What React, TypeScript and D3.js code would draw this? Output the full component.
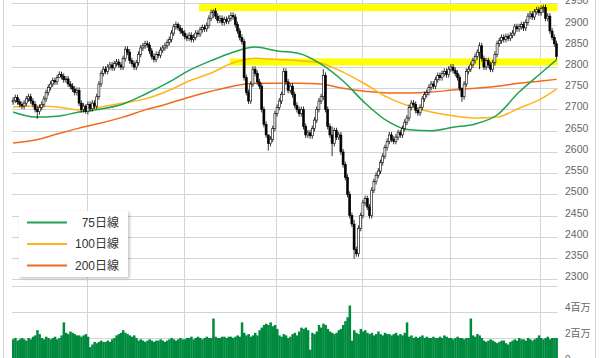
import React from 'react';
import * as d3 from 'd3';

// daily closes (248 sessions)
const closes = [
  2722, 2728, 2718, 2712, 2708, 2715, 2725, 2730, 2720, 2712,
  2700, 2695, 2705, 2712, 2725, 2740, 2752, 2760, 2768, 2765,
  2775, 2782, 2778, 2770, 2772, 2760, 2755, 2748, 2740, 2745,
  2715, 2700, 2708, 2695, 2712, 2702, 2715, 2708, 2730, 2760,
  2785, 2795, 2790, 2800, 2805, 2798, 2808, 2812, 2805, 2800,
  2820, 2842, 2835, 2815, 2808, 2800, 2810, 2830, 2845, 2850,
  2855, 2852, 2838, 2825, 2818, 2830, 2828, 2840, 2845, 2850,
  2858, 2865, 2880, 2895, 2900, 2892, 2885, 2880, 2872, 2868,
  2875, 2865, 2870, 2880, 2878, 2888, 2893, 2890, 2898, 2915,
  2928, 2932, 2920, 2910, 2915, 2905, 2912, 2908, 2915, 2922,
  2918, 2900, 2885, 2870, 2860, 2775, 2740, 2720, 2760, 2795,
  2785, 2765, 2755, 2700, 2665, 2640, 2620, 2630, 2655, 2690,
  2705, 2720, 2735, 2790, 2765, 2745, 2755, 2735, 2710, 2700,
  2690, 2700, 2660, 2640, 2645, 2638, 2655, 2675, 2700, 2720,
  2730, 2780, 2700, 2660, 2640, 2620, 2650, 2635, 2640, 2600,
  2570, 2540, 2500, 2450, 2430, 2370, 2360, 2420, 2450, 2480,
  2490, 2470, 2450, 2510, 2530, 2545, 2555, 2575, 2590, 2610,
  2625, 2640, 2630, 2625, 2635, 2645, 2640, 2655, 2670, 2680,
  2705, 2715, 2712, 2698, 2692, 2705, 2725, 2735, 2740, 2752,
  2760, 2755, 2770, 2780, 2775, 2785, 2790, 2782, 2795, 2800,
  2792, 2785, 2775, 2750, 2730, 2760, 2790, 2795, 2805, 2815,
  2825, 2835, 2850, 2820, 2800, 2815, 2805, 2795, 2810, 2830,
  2855, 2862, 2870, 2865, 2872, 2868, 2875, 2880, 2895, 2890,
  2895, 2900, 2892, 2905, 2920, 2925, 2918, 2930, 2935, 2928,
  2938, 2940, 2915, 2920, 2885, 2870, 2855, 2825,
];
const firstOpen = 2718;
// notable long shadows: [index, high, low]
const extremes: [number, number, number][] = [
  [11, 2708, 2678], [21, 2790, 2774], [33, 2712, 2690], [75, 2905, 2886],
  [91, 2936, 2915], [116, 2640, 2603], [123, 2798, 2735], [141, 2795, 2722],
  [145, 2660, 2590], [155, 2440, 2348], [204, 2752, 2718], [212, 2858, 2795],
  [241, 2947, 2928],
];

// volume, millions of shares
const volumes = [
  1.9, 2.0, 1.8, 1.9, 2.0, 1.9, 1.8, 2.0, 1.9, 2.1,
  2.2, 2.6, 2.3,
  2.0, 1.9, 2.1, 2.0, 1.9, 2.0, 2.1, 1.9, 2.0, 2.2,
  3.2,
  2.4, 2.3, 2.5, 2.4, 2.3, 2.2,
  2.2, 2.1, 2.2, 2.3, 2.1,
  1.3, 1.5,
  1.7, 1.6, 1.7, 1.8, 1.7, 1.7, 1.8, 1.7, 1.9,
  2.0, 2.2, 2.3, 2.4, 2.6, 2.4, 2.3, 2.2, 2.1, 2.2, 2.0,
  1.8, 1.9, 1.8, 1.7, 1.8, 1.9, 1.8, 1.7, 1.8, 1.8, 1.9, 1.8, 1.7, 1.8,
  1.9, 2.0, 1.9, 1.8, 1.9, 2.0, 1.9, 1.9, 2.0,
  2.0, 2.1, 1.9, 2.0, 2.1, 2.0, 1.9, 2.0, 2.1, 2.0, 2.0,
  3.5,
  2.1, 2.0, 2.0, 2.1, 2.1, 2.0, 2.1, 2.1, 2.0, 2.1, 2.2, 2.1,
  3.2,
  2.4,
  2.2, 2.3, 2.1, 2.2, 2.4, 2.2, 2.6,
  2.8, 3.0, 3.1, 3.0, 3.2, 2.9, 3.0, 2.7,
  2.2, 2.1, 2.3, 2.2, 2.0, 2.1, 2.3, 2.4, 2.2, 2.5,
  2.8, 2.7, 2.8, 2.6,
  1.1,
  2.4, 2.3, 2.5,
  3.0, 2.8, 3.1, 3.0, 2.7,
  2.5, 2.4, 2.3, 2.4, 2.6, 2.7,
  3.0, 3.3, 3.6,
  4.5,
  1.8,
  2.6, 2.4, 2.3, 2.7, 2.5, 2.6, 2.4,
  2.3, 2.4, 2.2, 2.3, 2.5, 2.3, 2.2, 2.4, 2.3,
  2.3, 2.2, 2.3, 2.4, 2.2, 2.3, 2.2, 2.4,
  3.2,
  2.1, 2.2, 2.0, 2.1, 2.0, 2.1, 2.2, 2.0, 2.1, 2.0, 2.0, 2.1, 2.0, 2.0, 2.1, 2.0, 2.2, 2.1,
  2.0, 2.0, 1.9, 2.0, 2.1, 2.0, 2.0, 1.9, 2.0, 2.0,
  3.5,
  2.2, 2.1, 2.3, 2.2, 2.0,
  1.8, 1.7, 1.8, 1.9, 1.8, 1.7, 1.6, 1.7, 1.8, 1.8, 1.6, 1.5, 1.7, 1.8,
  1.9, 1.8, 2.0, 1.9, 1.9, 1.8, 2.0, 1.9, 1.8, 1.9, 2.0,
  2.2,
  2.0, 1.9, 2.0, 2.1, 1.9, 2.0, 2.0, 2.0,
];

// moving averages read at sample days: [index, value]
const ma75: [number, number][] = [
  [0, 2694], [10, 2682], [20, 2684], [30, 2694], [40, 2701], [50, 2713], [60, 2736],
  [70, 2762], [80, 2792], [90, 2815], [100, 2835], [110, 2847], [120, 2838], [130, 2832],
  [140, 2807], [150, 2767], [160, 2715], [170, 2673], [180, 2652], [190, 2650],
  [200, 2658], [210, 2666], [220, 2687], [230, 2741], [240, 2786], [247, 2817],
];
const ma100: [number, number][] = [
  [0, 2706], [10, 2708], [20, 2706], [30, 2699], [40, 2706], [50, 2715], [60, 2725],
  [70, 2743], [80, 2767], [90, 2786], [100, 2810], [110, 2821], [120, 2818], [130, 2815],
  [140, 2809], [150, 2788], [160, 2760], [170, 2729], [180, 2708], [190, 2694],
  [200, 2685], [210, 2680], [220, 2682], [230, 2703], [240, 2725], [247, 2748],
];
const ma200: [number, number][] = [
  [0, 2621], [10, 2628], [20, 2642], [30, 2656], [40, 2668], [50, 2682], [60, 2699],
  [70, 2713], [80, 2729], [90, 2743], [100, 2755], [110, 2762], [120, 2762], [130, 2762],
  [140, 2760], [150, 2750], [160, 2743], [170, 2739], [180, 2739], [190, 2741],
  [200, 2746], [210, 2750], [220, 2755], [230, 2762], [240, 2767], [247, 2771],
];

// highlighted price levels: [startIndex, price]
const levels: [number, number][] = [[85, 2940], [99, 2812]];

const monthStarts = [34, 78, 120, 159, 199, 240];
const priceTicks = [2300, 2350, 2400, 2450, 2500, 2550, 2600, 2650, 2700, 2750, 2800, 2850, 2900, 2950];
const volTicks = [0, 2, 4, 6];
const volLabels = ['0', '2百万', '4百万', ''];

const legendNames = ['75日線', '100日線', '200日線'];
const legendColors = ['#1fa34f', '#ffb41c', '#f26a1b'];

export default function App() {
  const W = 600, H = 358;
  const n = closes.length;
  const x = d3.scaleBand<number>().domain(d3.range(n)).range([12, 557.6]).padding(0);
  const bw = x.bandwidth();
  const xc = (i: number) => (x(i) as number) + bw / 2;
  const y = d3.scaleLinear().domain([2300, 2950]).range([279.2, 3.4]);
  const yv = d3.scaleLinear().domain([0, 6]).range([364, 286]);
  const line = d3.line<[number, number]>().x(d => xc(d[0])).y(d => y(d[1])).curve(d3.curveMonotoneX);
  const ext = new Map(extremes.map(e => [e[0], e]));
  const font = '"Liberation Sans", Arial, "Noto Sans CJK JP", sans-serif';
  const gridColor = '#d4d4d4';

  const candles = closes.map((c, i) => {
    const o = i === 0 ? firstOpen : closes[i - 1];
    const e = ext.get(i);
    const hi = e ? e[1] : Math.max(o, c) + 7;
    const lo = e ? e[2] : Math.min(o, c) - 7;
    return { i, o, c, hi, lo };
  });

  return (
    <svg width={W} height={H} style={{ position: 'absolute', left: 0, top: 0, background: '#fff' }}>
      <defs>
        <filter id="sh" x="-20%" y="-20%" width="150%" height="150%">
          <feDropShadow dx="1.5" dy="1.5" stdDeviation="1.5" floodColor="#000" floodOpacity="0.25" />
        </filter>
      </defs>
      <rect x={0} y={0} width={W} height={H} fill="#fff" />
      {/* frame */}
      <line x1={3.5} x2={3.5} y1={0} y2={H} stroke={gridColor} />
      <line x1={595.5} x2={595.5} y1={0} y2={H} stroke={gridColor} />
      {/* horizontal grid */}
      {priceTicks.map(t => (
        <line key={'p' + t} x1={12} x2={557.6} y1={Math.round(y(t)) + 0.5} y2={Math.round(y(t)) + 0.5} stroke={gridColor} />
      ))}
      {volTicks.map(t => (
        <line key={'v' + t} x1={12} x2={557.6} y1={Math.round(yv(t)) + 0.5} y2={Math.round(yv(t)) + 0.5} stroke={gridColor} />
      ))}
      {/* vertical grid */}
      {monthStarts.map(m => (
        <line key={'m' + m} x1={Math.round(x(m) as number) + 0.5} x2={Math.round(x(m) as number) + 0.5} y1={0} y2={H} stroke={gridColor} />
      ))}
      {/* highlighted levels */}
      {levels.map(([s, p], k) => (
        <rect key={'lv' + k} x={x(s) as number} y={y(p) - 3.5} width={557.6 - (x(s) as number)} height={7} fill="#ffff00" />
      ))}
      {/* volume */}
      {volumes.map((v, i) => (
        <rect key={'vb' + i} x={x(i) as number} y={yv(v)} width={bw + 0.3} height={yv(0) - yv(v)} fill="#008a3e" />
      ))}
      {/* moving averages */}
      <path d={line(ma200) as string} fill="none" stroke={legendColors[2]} strokeWidth={1.5} />
      <path d={line(ma100) as string} fill="none" stroke={legendColors[1]} strokeWidth={1.5} />
      <path d={line(ma75) as string} fill="none" stroke={legendColors[0]} strokeWidth={1.5} />
      {/* candles */}
      {candles.map(d => {
        const up = d.c >= d.o;
        const top = y(Math.max(d.o, d.c));
        const bot = y(Math.min(d.o, d.c));
        const cx = xc(d.i);
        return (
          <g key={'c' + d.i}>
            <line x1={cx} x2={cx} y1={y(d.hi)} y2={y(d.lo)} stroke="#000" strokeWidth={0.8} />
            <rect x={cx - 1} y={top} width={2} height={Math.max(0.8, bot - top)}
              fill={up ? '#fff' : '#000'} stroke="#000" strokeWidth={0.6} />
          </g>
        );
      })}
      {/* price labels */}
      {priceTicks.map(t => (
        <text key={'pl' + t} x={565} y={y(t) - 3} dominantBaseline="central" fontSize={10.5} fill="#666" fontFamily={font}>{t}</text>
      ))}
      {volTicks.map((t, k) => (
        <text key={'vl' + t} x={565} y={yv(t) - 5} dominantBaseline="central" fontSize={10} fill="#666" fontFamily={font}>{volLabels[k]}</text>
      ))}
      {/* legend */}
      <g>
        <rect x={19} y={211} width={109} height={66} fill="#fff" filter="url(#sh)" />
        {legendNames.map((nm, k) => (
          <g key={nm}>
            <line x1={27} x2={67} y1={222.5 + k * 21.5} y2={222.5 + k * 21.5} stroke={legendColors[k]} strokeWidth={2} />
            <text x={119} y={222.5 + k * 21.5} textAnchor="end" dominantBaseline="central" fontSize={12} fill="#333" fontFamily={font}>{nm}</text>
          </g>
        ))}
      </g>
    </svg>
  );
}
